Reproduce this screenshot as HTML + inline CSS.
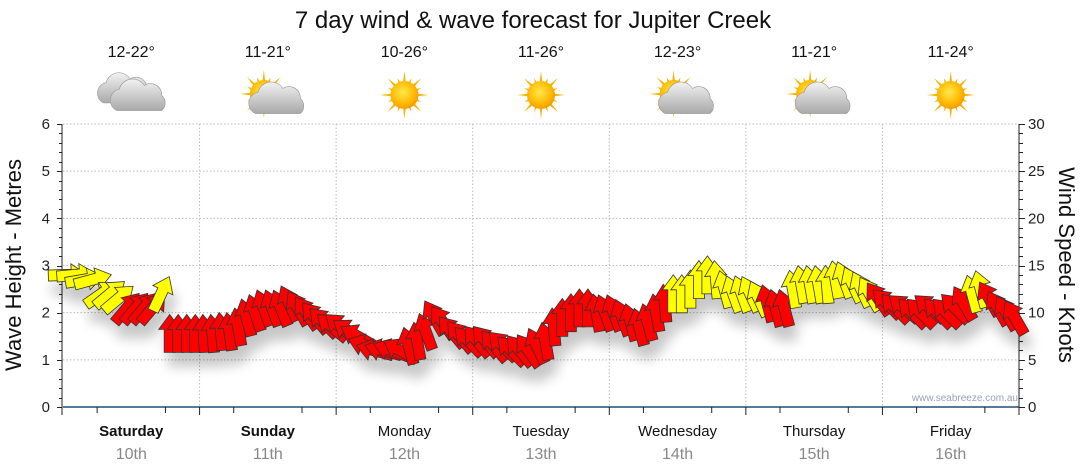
<!DOCTYPE html>
<html><head><meta charset="utf-8">
<style>
html,body{margin:0;padding:0;background:#fff;}
svg{display:block;font-family:"Liberation Sans",Arial,sans-serif;}
</style></head>
<body>
<svg id="chart" width="1080" height="475" viewBox="0 0 1080 475">
<defs>
<filter id="shadow" x="-50%" y="-50%" width="200%" height="200%">
<feGaussianBlur in="SourceAlpha" stdDeviation="6"/>
<feOffset dx="4" dy="14" result="b"/>
<feComponentTransfer><feFuncA type="linear" slope="0.22"/></feComponentTransfer>
<feMerge><feMergeNode/><feMergeNode in="SourceGraphic"/></feMerge>
</filter>
<radialGradient id="sunG" cx="45%" cy="40%" r="60%"><stop offset="0" stop-color="#ffe94d"/><stop offset="0.7" stop-color="#ffb800"/><stop offset="1" stop-color="#f39a00"/></radialGradient>
<linearGradient id="cloudG" x1="0" y1="0" x2="0" y2="1"><stop offset="0" stop-color="#f2f2f2"/><stop offset="1" stop-color="#a9a9a9"/></linearGradient>
</defs>
<text x="533" y="28" text-anchor="middle" font-size="24" fill="#111">7 day wind &amp; wave forecast for Jupiter Creek</text>
<g id="grid"></g>
<g id="axes"></g>
<g id="icons"></g>
<g id="arrows" filter="url(#shadow)"></g>
<text x="1018" y="401" text-anchor="end" font-size="10" fill="#9aa3b5">www.seabreeze.com.au</text>
<text transform="translate(21,265) rotate(-90)" text-anchor="middle" font-size="22" fill="#111">Wave Height - Metres</text>
<text transform="translate(1059,265) rotate(90)" text-anchor="middle" font-size="22" fill="#111">Wind Speed - Knots</text>
</svg>
<script>
const days = ["Saturday","Sunday","Monday","Tuesday","Wednesday","Thursday","Friday"];
const dates = ["10th","11th","12th","13th","14th","15th","16th"];
const temps = ["12-22°","11-21°","10-26°","11-26°","12-23°","11-21°","11-24°"];
const weather = ["cloud","partly","sun","sun","partly","partly","sun"];
const waveTicks = [0,1,2,3,4,5,6];
const windTicks = [0,5,10,15,20,25,30];
// wind speed (knots), 16 samples per day
const windSpeed = [
14,14,13.5,13.5,12,12,11.5,10.5,10.5,10.5,10.5,12,7.8,7.8,7.8,7.8,
7.8,7.8,8,8,8.5,9.5,10,10.5,10.5,10.5,11,10.5,10,9.5,9,8.5,
8.5,8,7.5,6.5,6,6,6,6,6.5,7,8,9.5,9,8,7.5,7,
7,7,6.5,6.5,6,6,6,6.5,7,8.5,9.5,10,10.5,10.5,10,10,
10,9.5,9,8.5,9,10,11,12,12,12.5,13.5,14,13.5,12.5,12,12,
12,11.5,11,10.5,10.5,12.5,13,13,13,13,13.5,13.5,13,12.5,12,11.5,
11,10.5,10.5,10,10,10.5,10,10,10.5,11,12,12.5,11.5,10.5,10,9.5];
// direction arrow points to (degrees, 0 = up, 90 = right)
const windDir = [
88,85,80,75,55,50,50,40,40,40,40,25,0,0,0,0,
-3,-5,-5,-8,-10,-15,-18,-20,-20,-22,-25,-30,-35,-40,-45,-50,
-50,-55,-60,-70,-75,-75,-70,-60,-15,-10,-20,-30,-35,-40,-40,-45,
-40,-40,-40,-45,-45,-40,-35,-25,-10,-5,0,0,0,0,-10,-20,
-20,-20,-15,-15,-15,-10,-5,0,0,0,0,0,-5,-15,-20,-20,
-25,-25,-15,-15,-15,-10,-10,-10,-10,-5,-10,-20,-25,-25,-30,-35,
-45,-45,-50,-45,-45,-50,-45,-45,-45,-30,-15,-15,-30,-30,-30,-30];
// arrow colour class: y = yellow, r = red
const windClass = [
"y","y","y","y","y","y","y","r","r","r","r","y","r","r","r","r",
"r","r","r","r","r","r","r","r","r","r","r","r","r","r","r","r",
"r","r","r","r","r","r","r","r","r","r","r","r","r","r","r","r",
"r","r","r","r","r","r","r","r","r","r","r","r","r","r","r","r",
"r","r","r","r","r","r","r","y","y","y","y","y","y","y","y","y",
"y","y","r","r","r","y","y","y","y","y","y","y","y","y","y","r",
"r","r","r","r","r","r","r","r","r","r","y","y","r","r","r","r"];

const NS="http://www.w3.org/2000/svg";
const X0=63, X1=1019, Y0=407, Y1=124;
const dayW=(X1-X0)/7;
const yWave=v=>Y0-(v/6)*(Y0-Y1);
const yWind=v=>Y0-(v/30)*(Y0-Y1);
const xSample=i=>X0+(i+0.5)*(X1-X0)/windSpeed.length;
function mk(tag,attrs,parent){const e=document.createElementNS(NS,tag);for(const k in attrs)e.setAttribute(k,attrs[k]);parent.appendChild(e);return e;}

const grid=document.getElementById('grid');
waveTicks.forEach(t=>{ if(t>0){
  const l=mk('line',{x1:X0,x2:X1,y1:yWave(t),y2:yWave(t),stroke:'#bbb','stroke-dasharray':'1.5,2','stroke-width':1},grid);
  
  
}});
for(let d=1;d<7;d++){
  const x=X0+d*dayW;
  const l=mk('line',{x1:x,x2:x,y1:Y1,y2:Y0,stroke:'#bbb','stroke-dasharray':'1.5,2','stroke-width':1},grid);
  
  
}
const axes=document.getElementById('axes');
mk('line',{x1:X0-1,x2:X0-1,y1:Y1,y2:Y0+8,stroke:'#222','stroke-width':1},axes);
mk('line',{x1:X1,x2:X1,y1:Y1,y2:Y0,stroke:'#222','stroke-width':1},axes);
mk('line',{x1:X0,x2:X1,y1:Y0,y2:Y0,stroke:'#1f4e79','stroke-width':1.5},axes);
for(let v=0;v<=6.001;v+=0.2){const y=Math.round(yWave(v))+0.5;const maj=Math.abs(v-Math.round(v))<0.01;mk('line',{x1:X0-(maj?6:4),x2:X0-1,y1:y,y2:y,stroke:'#222'},axes);}
for(let v=0;v<=30;v++){const y=Math.round(yWind(v))+0.5;const maj=v%5===0;mk('line',{x1:X1,x2:X1+(maj?6:4),y1:y,y2:y,stroke:'#222'},axes);}
waveTicks.forEach(t=>{const e=mk('text',{x:50,y:yWave(t)+5,'text-anchor':'end','font-size':15,fill:'#222'},axes);e.textContent=t;
  
  });
windTicks.forEach(t=>{const e=mk('text',{x:1028,y:yWind(t)+5,'font-size':15,fill:'#222'},axes);e.textContent=t;
  
  });
for(let d=0;d<7;d++){
  const xs=X0+d*dayW;
  [0.25,0.75].forEach(f=>mk('line',{x1:xs+f*dayW,x2:xs+f*dayW,y1:Y0,y2:Y0+6,stroke:'#222'},axes));
  mk('line',{x1:xs+dayW,x2:xs+dayW,y1:Y0,y2:Y0+8,stroke:'#222'},axes);
  const cx=xs+dayW/2;
  const n=mk('text',{x:cx,y:436,'text-anchor':'middle','font-size':15,fill:'#111','font-weight':d<2?'bold':'normal'},axes);n.textContent=days[d];
  
  
  const dt=mk('text',{x:cx,y:459,'text-anchor':'middle','font-size':16,fill:'#888'},axes);dt.textContent=dates[d];
  
  
}
const icons=document.getElementById('icons');
function cloud(g,x,y,s){
  const c=mk('g',{transform:`translate(${x},${y}) scale(${s})`},g);
  mk('path',{d:`M-18,10 a9,9 0 0 1 2,-17 a11,11 0 0 1 20,-3 a9,9 0 0 1 14,8 a8,8 0 0 1 0,12 z`,fill:'url(#cloudG)',stroke:'#999','stroke-width':0.5},c);
}
function sun(g,x,y){
  for(let a=0;a<360;a+=22.5){const r=a*Math.PI/180,l=(a/22.5)%2?18:24;
    mk('polygon',{points:`${x+Math.cos(r-0.12)*12},${y+Math.sin(r-0.12)*12} ${x+Math.cos(r)*l},${y+Math.sin(r)*l} ${x+Math.cos(r+0.12)*12},${y+Math.sin(r+0.12)*12}`,fill:'#f5b400'},g);}
  mk('circle',{cx:x,cy:y,r:14,fill:'url(#sunG)'},g);
}
for(let d=0;d<7;d++){
  const cx=X0+d*dayW+dayW/2;
  const t=mk('text',{x:cx,y:57,'text-anchor':'middle','font-size':16,fill:'#111'},icons);t.textContent=temps[d];
  
  
  const g=mk('g',{},icons);
  
  
  if(weather[d]==='cloud'){cloud(g,cx-6,91,1.2);cloud(g,cx+8,98,1.25);}
  else if(weather[d]==='sun'){sun(g,cx,95);}
  else {sun(g,cx-4,94);cloud(g,cx+10,101,1.25);}
}
const ag=document.getElementById('arrows');
const shape="-5.5,19 5.5,19 5.5,-4 11,-4 0,-19 -11,-4 -5.5,-4";
windSpeed.forEach((v,i)=>{
  const p=mk('polygon',{points:shape,transform:`translate(${xSample(i).toFixed(1)},${yWind(v).toFixed(1)}) rotate(${windDir[i]})`,fill:windClass[i]==='y'?'#ffff00':'#ff0000',stroke:'#333','stroke-width':0.8,'stroke-linejoin':'miter'},ag);
  
  
});
</script>
</body></html>
